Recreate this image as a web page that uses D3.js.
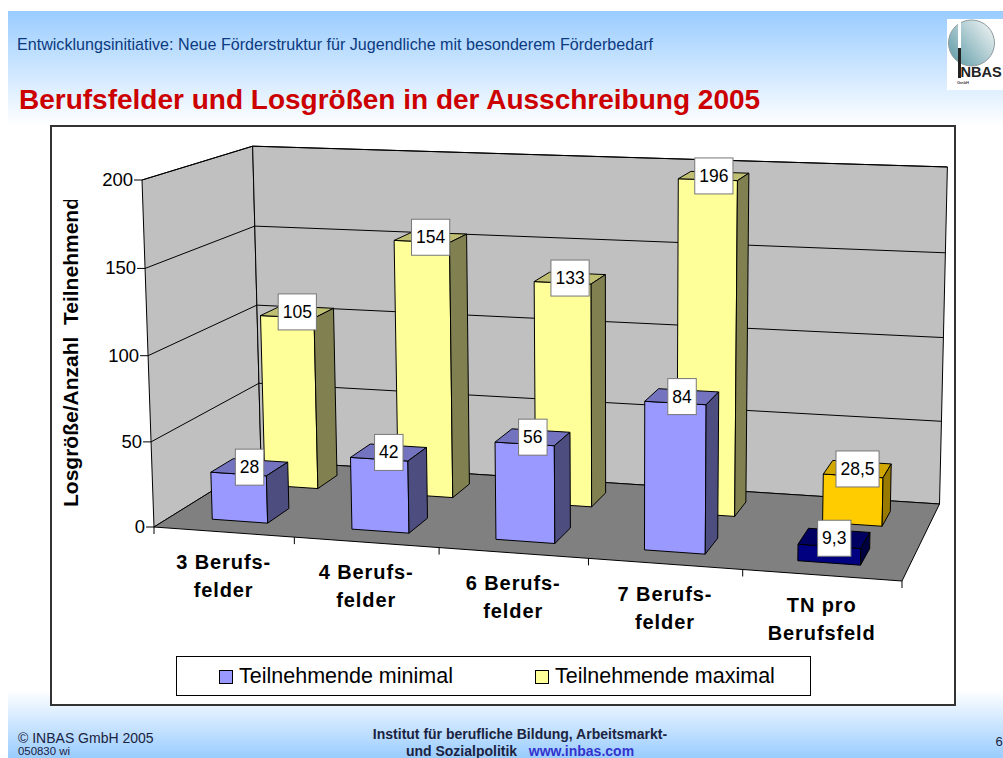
<!DOCTYPE html>
<html>
<head>
<meta charset="utf-8">
<script src="https://cdn.jsdelivr.net/npm/d3@7"></script>
<style>
  html, body { margin: 0; padding: 0; background: #fff; }
  svg { display: block; font-family: "Liberation Sans", Arial, sans-serif; }
</style>
</head>
<body>
<div id="chart"></div>
<script>
// 1. DATA
const categories = ["3 Berufsfelder", "4 Berufsfelder", "6 Berufsfelder", "7 Berufsfelder", "TN pro Berufsfeld"]
const categoryLines = [["3 Berufs-", "felder"], ["4 Berufs-", "felder"], ["6 Berufs-", "felder"], ["7 Berufs-", "felder"], ["TN pro", "Berufsfeld"]]
const seriesNames = ["Teilnehmende minimal", "Teilnehmende maximal"]
const minimalValues = [28, 42, 56, 84, 9.3]
const maximalValues = [105, 154, 133, 196, 28.5]
const minimalLabels = ["28", "42", "56", "84", "9,3"]
const maximalLabels = ["105", "154", "133", "196", "28,5"]
const yTicks = [0, 50, 100, 150, 200]

// colours: front, top, side
const palette = {
    min: ["#9999ff", "#7373bf", "#4d4d80"],
    max: ["#ffff99", "#bfbf73", "#808050"],
    minLast: ["#000080", "#000060", "#000040"],
    maxLast: ["#ffcc00", "#d2a800", "#997a00"]
}

// 2. DIMENSIONS
const width = 1003
const height = 758

// 3. DRAW CANVAS
const svg = d3.select("#chart").append("svg")
    .attr("width", width)
    .attr("height", height)
    .attr("viewBox", `0 0 ${width} ${height}`)

const defs = svg.append("defs")
const topGrad = defs.append("linearGradient").attr("id", "top-grad").attr("x2", 0).attr("y2", 1)
topGrad.append("stop").attr("offset", 0).attr("stop-color", "#99ccff")
topGrad.append("stop").attr("offset", 1).attr("stop-color", "#ffffff")
const bottomGrad = defs.append("linearGradient").attr("id", "bottom-grad").attr("x2", 0).attr("y2", 1)
bottomGrad.append("stop").attr("offset", 0).attr("stop-color", "#ffffff")
bottomGrad.append("stop").attr("offset", 1).attr("stop-color", "#99ccff")
const logoGrad = defs.append("linearGradient").attr("id", "logo-grad").attr("x1", 0).attr("y1", 0.9).attr("x2", 1).attr("y2", 0.1)
logoGrad.append("stop").attr("offset", 0).attr("stop-color", "#5d9aa6")
logoGrad.append("stop").attr("offset", 1).attr("stop-color", "#f2f5f5")
defs.append("clipPath").attr("id", "title-clip")
    .append("rect").attr("x", 50).attr("y", 200).attr("width", 60).attr("height", 320)

// slide background
svg.append("rect").attr("x", 8).attr("y", 11).attr("width", width - 8).attr("height", 115).attr("fill", "url(#top-grad)")
svg.append("rect").attr("x", 8).attr("y", 690).attr("width", width - 8).attr("height", 68).attr("fill", "url(#bottom-grad)")

svg.append("text").attr("x", 17).attr("y", 50)
    .attr("font-size", 16.1).attr("fill", "#0b3a80")
    .text("Entwicklungsinitiative: Neue Förderstruktur für Jugendliche mit besonderem Förderbedarf")
svg.append("text").attr("x", 19).attr("y", 109)
    .attr("font-size", 28).attr("font-weight", "bold").attr("fill", "#cc0000")
    .text("Berufsfelder und Losgrößen in der Ausschreibung 2005")

// logo
const logo = svg.append("g")
logo.append("rect").attr("x", 947).attr("y", 19).attr("width", 56).attr("height", 71).attr("fill", "#fff")
logo.append("circle").attr("cx", 971.5).attr("cy", 43).attr("r", 23)
    .attr("fill", "url(#logo-grad)").attr("stroke", "#8d9b9e").attr("stroke-width", 1)
logo.append("rect").attr("x", 958).attr("y", 19).attr("width", 3).attr("height", 29).attr("fill", "#fff")
logo.append("rect").attr("x", 958).attr("y", 48).attr("width", 3).attr("height", 30).attr("fill", "#222")
logo.append("text").attr("x", 960.5).attr("y", 77).attr("font-size", 14.6).attr("font-weight", "bold").attr("fill", "#222").text("NBAS")
logo.append("text").attr("x", 957).attr("y", 84).attr("font-size", 4).attr("font-weight", "bold").attr("fill", "#444").text("GmbH")

// chart frame
svg.append("rect").attr("x", 51).attr("y", 126).attr("width", 904).attr("height", 579)
    .attr("fill", "#fff").attr("stroke", "#333").attr("stroke-width", 2)

// 4. CREATE SCALES
const uScale = d3.scaleBand().domain(categories).range([0, 1]).paddingInner(0.6).paddingOuter(0.3)
const wScale = d3.scaleBand().domain(seriesNames).range([0, 1]).paddingInner(0.59).paddingOuter(0.295)
const yScale = d3.scaleLinear().domain([0, 200]).range([0, 1])

// projective map of the 3d box, set up from the floor corners (0,0) (1,0) (1,1) (0,1)
// plus the top of the front left edge and a small vertical perspective term
const makeProjection = ([p0, p1, p2, p3], top, k) => {
    const dx1 = p1[0] - p2[0], dx2 = p3[0] - p2[0], sx = p0[0] - p1[0] + p2[0] - p3[0]
    const dy1 = p1[1] - p2[1], dy2 = p3[1] - p2[1], sy = p0[1] - p1[1] + p2[1] - p3[1]
    const det = dx1 * dy2 - dx2 * dy1
    const g = (sx * dy2 - dx2 * sy) / det
    const h = (dx1 * sy - sx * dy1) / det
    const a = p1[0] - p0[0] + g * p1[0], b = p3[0] - p0[0] + h * p3[0]
    const d = p1[1] - p0[1] + g * p1[1], e = p3[1] - p0[1] + h * p3[1]
    const cx = top[0] * (1 + k) - p0[0], cy = top[1] * (1 + k) - p0[1]
    return (u, value, w) => {
        const t = yScale(value)
        const q = g * u + h * w + k * t + 1
        return [(a * u + b * w + cx * t + p0[0]) / q, (d * u + e * w + cy * t + p0[1]) / q]
    }
}
const project = makeProjection([[154, 527], [902, 581], [939.5, 504], [261, 460.5]], [142, 180], -0.025)
const path = points => d3.line()(points) + "Z"

// 5. DRAW WALLS
const box = svg.append("g").attr("stroke", "#000").attr("stroke-width", 1).attr("stroke-linejoin", "round")
box.append("path").attr("fill", "#c0c0c0")
    .attr("d", path([project(0, 0, 0), project(0, 200, 0), project(0, 200, 1), project(0, 0, 1)]))
box.append("path").attr("fill", "#c0c0c0")
    .attr("d", path([project(0, 0, 1), project(0, 200, 1), project(1, 200, 1), project(1, 0, 1)]))
box.append("path").attr("fill", "#808080")
    .attr("d", path([project(0, 0, 0), project(1, 0, 0), project(1, 0, 1), project(0, 0, 1)]))

box.selectAll(".grid")
    .data(yTicks.slice(1))
    .join("path")
    .attr("class", "grid")
    .attr("fill", "none")
    .attr("d", d => d3.line()([project(0, d, 0), project(0, d, 1), project(1, d, 1)]))

// 6. DRAW BARS
const barRows = [
    { name: seriesNames[1], values: maximalValues, colors: i => i === 4 ? palette.maxLast : palette.max, labels: maximalLabels },
    { name: seriesNames[0], values: minimalValues, colors: i => i === 4 ? palette.minLast : palette.min, labels: minimalLabels }
]
const labelData = []
barRows.forEach(row => {
    const w0 = wScale(row.name), w1 = w0 + wScale.bandwidth()
    categories.forEach((cat, i) => {
        const u0 = uScale(cat), u1 = u0 + uScale.bandwidth()
        const v = row.values[i]
        const colors = row.colors(i)
        const bar = svg.append("g").attr("stroke", "#000").attr("stroke-width", 1).attr("stroke-linejoin", "round")
        bar.append("path").attr("fill", colors[0])
            .attr("d", path([project(u0, 0, w0), project(u1, 0, w0), project(u1, v, w0), project(u0, v, w0)]))
        bar.append("path").attr("fill", colors[1])
            .attr("d", path([project(u0, v, w0), project(u1, v, w0), project(u1, v, w1), project(u0, v, w1)]))
        bar.append("path").attr("fill", colors[2])
            .attr("d", path([project(u1, 0, w0), project(u1, 0, w1), project(u1, v, w1), project(u1, v, w0)]))
        labelData.push({ text: row.labels[i], pos: project((u0 + u1) / 2, v, (w0 + w1) / 2) })
    })
})

// 7. DRAW PERIPHERALS
    // axes
const yAxis = svg.append("g")
yAxis.selectAll("line")
    .data(yTicks).join("line")
    .attr("x1", d => project(0, d, 0)[0] - 8)
    .attr("y1", d => project(0, d, 0)[1])
    .attr("x2", d => project(0, d, 0)[0])
    .attr("y2", d => project(0, d, 0)[1])
    .attr("stroke", "#000")
yAxis.selectAll("text")
    .data(yTicks).join("text")
    .attr("x", d => project(0, d, 0)[0] - 9)
    .attr("y", d => project(0, d, 0)[1] + 6)
    .attr("text-anchor", "end")
    .attr("font-size", 18.5)
    .attr("fill", "#000")
    .text(d => d)

const xAxis = svg.append("g")
xAxis.selectAll("line")
    .data(d3.range(categories.length + 1)).join("line")
    .attr("x1", d => project(d / categories.length, 0, 0)[0])
    .attr("y1", d => project(d / categories.length, 0, 0)[1])
    .attr("x2", d => project(d / categories.length, 0, 0)[0])
    .attr("y2", d => project(d / categories.length, 0, 0)[1] + 7)
    .attr("stroke", "#000")
xAxis.selectAll("text")
    .data(categories).join("text")
    .attr("x", d => project(uScale(d) + uScale.bandwidth() / 2, 0, 0)[0])
    .attr("y", d => project(uScale(d) + uScale.bandwidth() / 2, 0, 0)[1] + 37)
    .attr("text-anchor", "middle")
    .attr("font-size", 20)
    .attr("font-weight", "bold")
    .attr("letter-spacing", 0.9)
    .attr("fill", "#000")
    .each(function (d, i) {
        d3.select(this).selectAll("tspan")
            .data(categoryLines[i]).join("tspan")
            .attr("x", d3.select(this).attr("x"))
            .attr("dy", (t, j) => j === 0 ? 0 : 28)
            .text(t => t)
    })

svg.append("g").attr("clip-path", "url(#title-clip)")
    .append("text")
    .attr("transform", "translate(78,507) rotate(-90)")
    .attr("font-size", 21)
    .attr("font-weight", "bold")
    .style("white-space", "pre")
    .text("Losgröße/Anzahl  Teilnehmende")

    // data labels
const labels = svg.append("g")
labelData.forEach(d => {
    const g = labels.append("g").attr("transform", `translate(${d.pos[0]},${d.pos[1]})`)
    const text = g.append("text")
        .attr("y", 6)
        .attr("text-anchor", "middle")
        .attr("font-size", 17.5)
        .attr("fill", "#000")
        .text(d.text)
    const w = text.node().getComputedTextLength() + 9
    g.insert("rect", "text")
        .attr("x", -w / 2)
        .attr("y", -18)
        .attr("width", w)
        .attr("height", 36)
        .attr("fill", "#fff")
        .attr("stroke", "#777")
})

    // legend
const legend = svg.append("g")
legend.append("rect").attr("x", 176.5).attr("y", 656.5).attr("width", 634).attr("height", 39)
    .attr("fill", "#fff").attr("stroke", "#000")
const legendX = d3.scaleOrdinal().domain(seriesNames).range([219, 535])
legend.selectAll("rect.swatch")
    .data(seriesNames).join("rect")
    .attr("class", "swatch")
    .attr("x", d => legendX(d) + 0.5)
    .attr("y", 670.5)
    .attr("width", 13)
    .attr("height", 13)
    .attr("fill", (d, i) => i === 0 ? palette.min[0] : palette.max[0])
    .attr("stroke", "#000")
legend.selectAll("text")
    .data(seriesNames).join("text")
    .attr("x", d => legendX(d) + 20)
    .attr("y", 683)
    .attr("font-size", 21.5)
    .attr("fill", "#000")
    .text(d => d)

    // footer
svg.append("text").attr("x", 18).attr("y", 743).attr("font-size", 14).attr("fill", "#1a2340").text("© INBAS GmbH 2005")
svg.append("text").attr("x", 18).attr("y", 755).attr("font-size", 11.4).attr("fill", "#1a2340").text("050830 wi")
svg.append("text").attr("x", 520).attr("y", 739).attr("text-anchor", "middle")
    .attr("font-size", 14).attr("font-weight", "bold").attr("fill", "#1a2340")
    .text("Institut für berufliche Bildung, Arbeitsmarkt-")
const footer2 = svg.append("text").attr("x", 520).attr("y", 756).attr("text-anchor", "middle")
    .attr("font-size", 14).attr("font-weight", "bold").attr("fill", "#1a2340").style("white-space", "pre")
footer2.append("tspan").text("und Sozialpolitik   ")
footer2.append("tspan").attr("fill", "#3333cc").text("www.inbas.com")
svg.append("text").attr("x", 995.5).attr("y", 746).attr("font-size", 13).attr("fill", "#1a2340").text("6")
</script>
</body>
</html>
